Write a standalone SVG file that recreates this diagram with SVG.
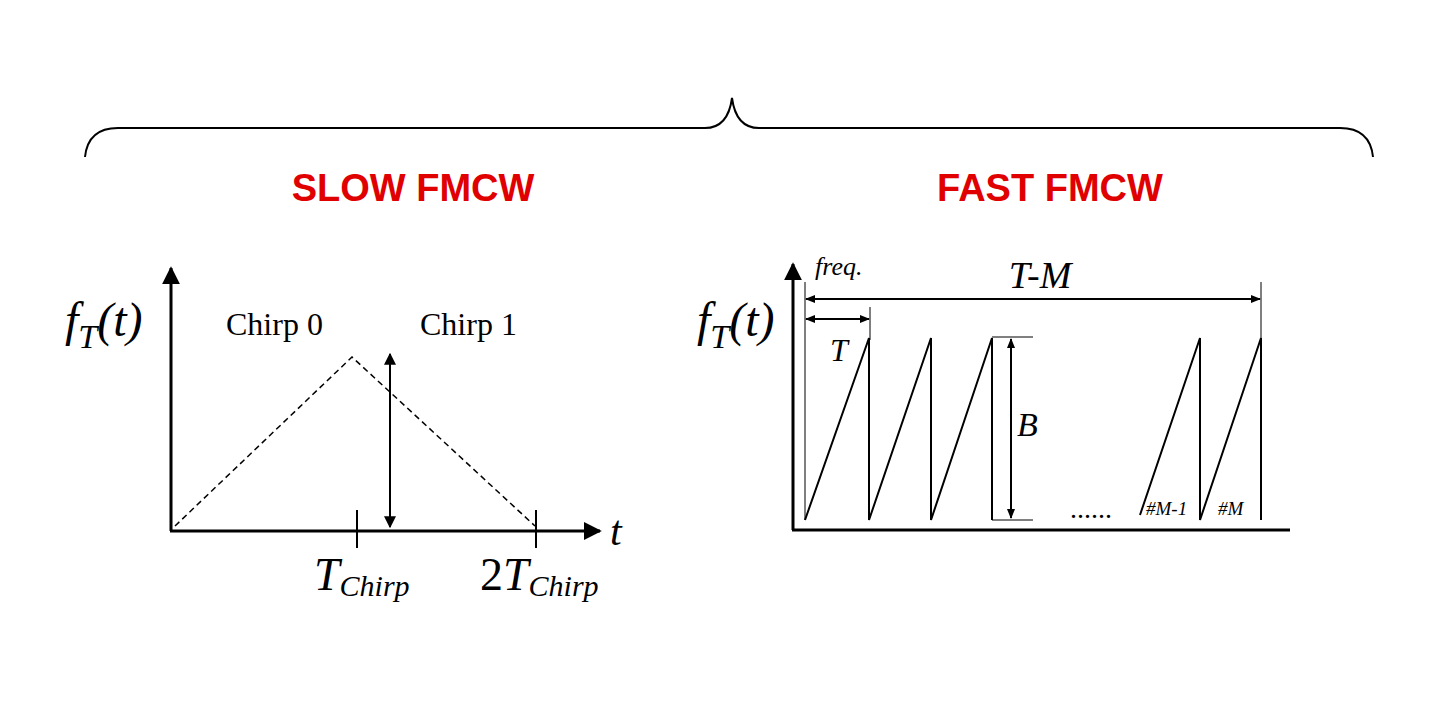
<svg xmlns="http://www.w3.org/2000/svg" width="1440" height="720" viewBox="0 0 1440 720">
<style>
.ax{stroke:#000;stroke-width:3;fill:none}
.ln{stroke:#000;stroke-width:2;fill:none}
.th{stroke:#000;stroke-width:1;fill:none}
.ti{font-family:"Liberation Sans",Arial,sans-serif;font-weight:bold;font-size:38px;fill:#e00000;text-anchor:middle}
.m{font-family:"Liberation Serif","DejaVu Serif",serif;font-style:italic;fill:#000}
.r{font-family:"Liberation Serif","DejaVu Serif",serif;fill:#000}
</style>
<defs>
<marker id="ah" viewBox="0 0 10 10" refX="9" refY="5" markerWidth="6" markerHeight="6" orient="auto-start-reverse"><path d="M0,0 L10,5 L0,10 z" fill="#000"/></marker>
<marker id="as" viewBox="0 0 10 10" refX="9" refY="5" markerWidth="5" markerHeight="5" orient="auto-start-reverse"><path d="M0,1 L10,5 L0,9 z" fill="#000"/></marker>
</defs>
<rect width="1440" height="720" fill="#fff"/>
<g id="brace"><path class="ln" d="M85,157 Q88,128 118,128 L705,128 Q728,128 732,98 Q736,128 759,128 L1340,128 Q1370,128 1373,157"/></g>
<g id="title-slow"><text class="ti" x="413" y="201">SLOW FMCW</text></g>
<g id="title-fast"><text class="ti" x="1050" y="201">FAST FMCW</text></g>
<g id="slow-chart">
<line class="ax" x1="171" y1="531" x2="171" y2="268" marker-end="url(#ah)"/>
<line class="ax" x1="170" y1="531" x2="600" y2="531" marker-end="url(#ah)"/>
<path d="M175,526 L352,357 L535,526" fill="none" stroke="#000" stroke-width="1.5" stroke-dasharray="6,4"/>
<line class="ln" x1="357" y1="510" x2="357" y2="548"/>
<line class="ln" x1="536" y1="510" x2="536" y2="548"/>
<line class="ln" x1="390" y1="354" x2="390" y2="527" marker-start="url(#ah)" marker-end="url(#ah)"/>
<text class="m" x="65" y="336" font-size="48">f<tspan font-size="34" dy="12">T</tspan><tspan dy="-12">(t)</tspan></text>
<text class="r" x="226" y="335" font-size="32">Chirp 0</text>
<text class="r" x="420" y="335" font-size="32">Chirp 1</text>
<text class="m" x="610" y="545" font-size="42">t</text>
<text class="m" x="314" y="590" font-size="46">T<tspan font-size="30" dy="6">Chirp</tspan></text>
<text class="r" x="480" y="590" font-size="46">2<tspan class="m">T</tspan><tspan class="m" font-size="30" dy="6">Chirp</tspan></text>
</g>
<g id="fast-chart">
<line class="ax" x1="793" y1="530" x2="793" y2="264" marker-end="url(#ah)"/>
<line class="ax" x1="792" y1="530" x2="1290" y2="530"/>
<line class="th" x1="805" y1="282" x2="805" y2="520"/>
<line class="th" x1="870" y1="307" x2="870" y2="340"/>
<line class="th" x1="1261" y1="282" x2="1261" y2="340"/>
<path class="ln" d="M805,520 L869,338 L869,520 L931,338 L931,520 L992,338 L992,520"/>
<path class="ln" d="M1140,515 L1200,338 L1200,520 L1261,338 L1261,520"/>
<line class="th" x1="992" y1="337" x2="1033" y2="337"/>
<line class="th" x1="992" y1="520" x2="1033" y2="520"/>
<line class="ln" x1="1011" y1="339" x2="1011" y2="518" stroke-width="1.5" marker-start="url(#as)" marker-end="url(#as)"/>
<line class="ln" x1="806" y1="299" x2="1260" y2="299" stroke-width="1.5" marker-start="url(#as)" marker-end="url(#as)"/>
<line class="ln" x1="806" y1="319" x2="869" y2="319" stroke-width="1.5" marker-start="url(#as)" marker-end="url(#as)"/>
<text class="m" x="697" y="336" font-size="48">f<tspan font-size="34" dy="12">T</tspan><tspan dy="-12">(t)</tspan></text>
<text class="m" x="815" y="275" font-size="26">freq.</text>
<text class="m" x="1040" y="288" font-size="38" text-anchor="middle">T-M</text>
<text class="m" x="830" y="361" font-size="32">T</text>
<text class="m" x="1017" y="436" font-size="34">B</text>
<text class="r" x="1070" y="518" font-size="28">......</text>
<text class="m" x="1146" y="515" font-size="19">#M-1</text>
<text class="m" x="1218" y="515" font-size="19">#M</text>
</g>
</svg>
